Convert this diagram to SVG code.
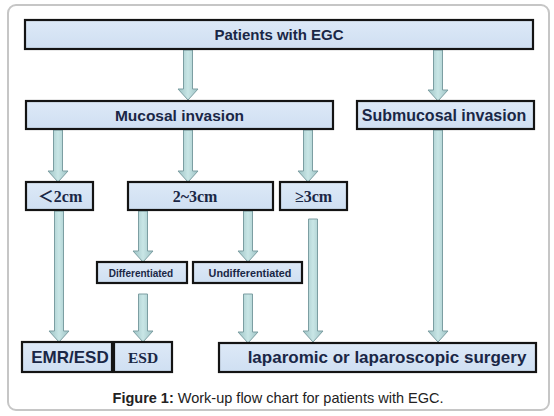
<svg xmlns="http://www.w3.org/2000/svg" width="554" height="416" viewBox="0 0 554 416">
<defs>
<linearGradient id="shaft" x1="0" y1="0" x2="1" y2="0">
<stop offset="0" stop-color="#9cc2c4"/>
<stop offset="0.5" stop-color="#c9e6e6"/>
<stop offset="1" stop-color="#9cc2c4"/>
</linearGradient>
<linearGradient id="boxfill" x1="0" y1="0" x2="0" y2="1">
<stop offset="0" stop-color="#dde9f7"/>
<stop offset="1" stop-color="#cfdff2"/>
</linearGradient>
</defs>
<style>
.frame{fill:#fff;stroke:#c6c6c6;stroke-width:2}
.box{fill:url(#boxfill);stroke:#141414;stroke-width:2.2}
.sans{font-family:"Liberation Sans",Arial,sans-serif;font-weight:bold;fill:#1a2746;text-anchor:middle}
.serif{font-family:"Liberation Serif","Times New Roman","Noto Sans CJK SC",serif;font-weight:bold;fill:#1a2746;text-anchor:middle}
.arrow{fill:url(#shaft);stroke:#7c9ea2;stroke-width:1}
.cap{font-family:"Liberation Sans",Arial,sans-serif;font-size:14.5px;fill:#222;text-anchor:middle}
</style>
<rect class="frame" x="8" y="5" width="541" height="405" rx="8"/>
<g id="connectors">
<path class="arrow" d="M183.5,50 H192.5 V89 H198 L188,100 L178,89 H183.5 Z"/>
<path class="arrow" d="M433.5,50 H442.5 V90 H448 L438,101 L428,90 H433.5 Z"/>
<path class="arrow" d="M53.5,130 H62.5 V171 H68 L58,182 L48,171 H53.5 Z"/>
<path class="arrow" d="M183.5,130 H192.5 V171 H198 L188,182 L178,171 H183.5 Z"/>
<path class="arrow" d="M303.5,130 H312.5 V171 H318 L308,182 L298,171 H303.5 Z"/>
<path class="arrow" d="M54.5,211 H63.5 V331 H69 L59,342 L49,331 H54.5 Z"/>
<path class="arrow" d="M138.5,211 H147.5 V251 H153 L143,262 L133,251 H138.5 Z"/>
<path class="arrow" d="M243.5,211 H252.5 V251 H258 L248,262 L238,251 H243.5 Z"/>
<path class="arrow" d="M138.5,294 H147.5 V331 H153 L143,342 L133,331 H138.5 Z"/>
<path class="arrow" d="M243.5,294 H252.5 V332 H258 L248,343 L238,332 H243.5 Z"/>
<path class="arrow" d="M308.5,219 H317.5 V331 H323 L313,342 L303,331 H308.5 Z"/>
<path class="arrow" d="M433.5,130 H442.5 V331 H448 L438,342 L428,331 H433.5 Z"/>
</g>
<g id="patients"><rect class="box" x="25" y="20" width="508" height="29"/><text class="sans" x="279" y="40" font-size="15">Patients with EGC</text></g>
<g id="mucosal"><rect class="box" x="26" y="101" width="307" height="28"/><text class="sans" x="179.5" y="121" font-size="15.5">Mucosal invasion</text></g>
<g id="submucosal"><rect class="box" x="357" y="101" width="177" height="28"/><text class="sans" x="444" y="121" font-size="16">Submucosal invasion</text></g>
<g id="lt2cm"><rect class="box" x="26" y="182" width="67" height="28"/><text class="serif" x="60" y="202" font-size="16">＜2cm</text></g>
<g id="cm2to3"><rect class="box" x="128" y="182" width="145" height="28"/><text class="serif" x="195" y="202" font-size="16">2~3cm</text></g>
<g id="ge3cm"><rect class="box" x="280" y="182" width="67" height="28"/><text class="serif" x="313.5" y="202" font-size="16">≥3cm</text></g>
<g id="differentiated"><rect class="box" x="97" y="262" width="90" height="21"/><text class="sans" x="141" y="277" font-size="10">Differentiated</text></g>
<g id="undifferentiated"><rect class="box" x="193" y="262" width="109" height="21"/><text class="sans" x="250" y="277" font-size="10.8">Undifferentiated</text></g>
<g id="emresd"><rect class="box" x="22" y="342" width="90" height="30"/><text class="sans" x="70" y="363" font-size="17">EMR/ESD</text></g>
<g id="esd"><rect class="box" x="114" y="342" width="58" height="30"/><text class="serif" x="143" y="363" font-size="15.5">ESD</text></g>
<g id="surgery"><rect class="box" x="219" y="343" width="317" height="29"/><text class="sans" x="387" y="363" font-size="17">laparomic or laparoscopic surgery</text></g>
<text class="cap" x="278" y="403"><tspan font-weight="bold">Figure 1:</tspan> Work-up flow chart for patients with EGC.</text>
</svg>
